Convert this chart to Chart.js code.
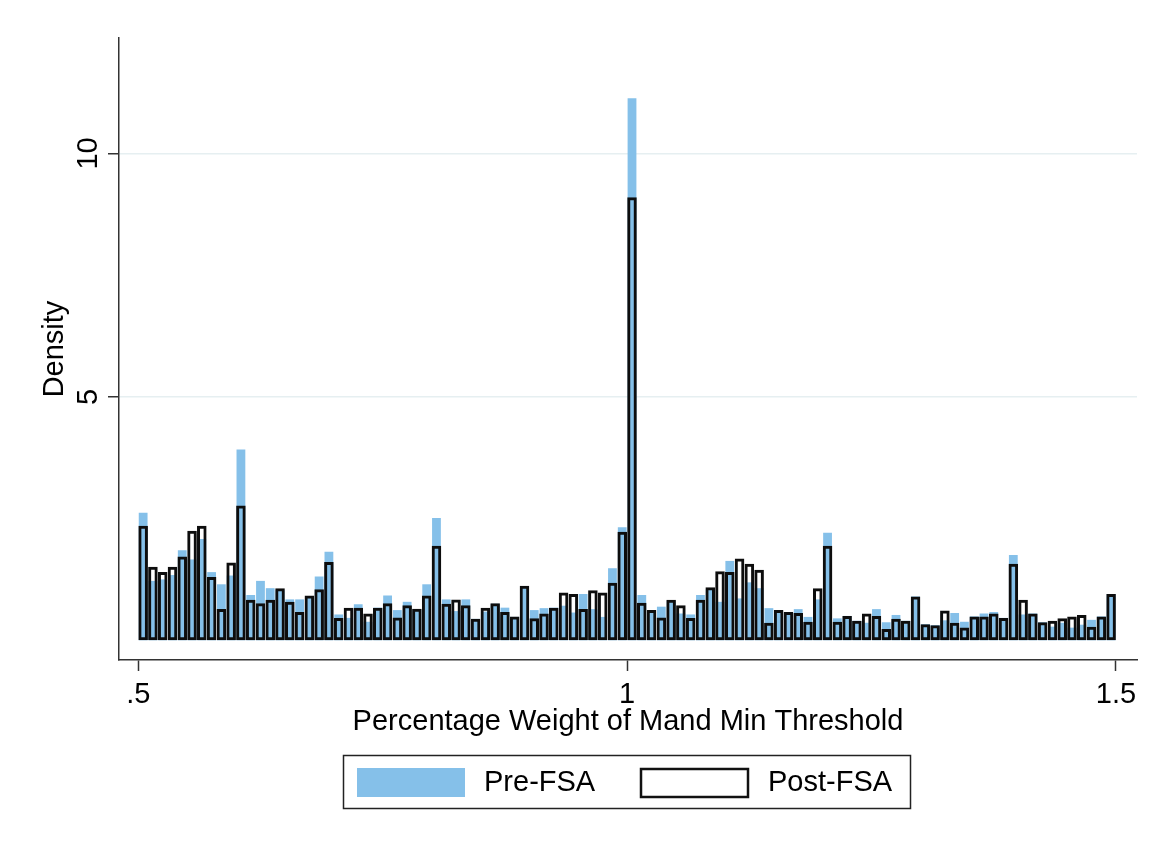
<!DOCTYPE html>
<html>
<head>
<meta charset="utf-8">
<script src="https://cdn.jsdelivr.net/npm/chart.js@4.4.1/dist/chart.umd.min.js"></script>
<style>
  html, body { margin: 0; padding: 0; background: #fff; }
  #wrap { width: 1159px; height: 844px; }
</style>
</head>
<body>
<div id="wrap"><canvas id="myChart" width="1159" height="844"></canvas></div>
<script>
// histogram bins: width 0.01 starting at .5
const binStart = 0.5;
const binWidth = 0.01;

const preFSA = [
    2.62, 1.22, 1.25, 1.34, 1.85, 1.66, 2.08, 1.40, 1.15, 1.33,
    3.92, 0.93, 1.22, 1.07, 1.03, 0.84, 0.84, 0.90, 1.31, 1.82,
    0.53, 0.46, 0.74, 0.38, 0.67, 0.92, 0.62, 0.79, 0.63, 1.15,
    2.51, 0.84, 0.60, 0.84, 0.44, 0.59, 0.75, 0.67, 0.48, 1.11,
    0.62, 0.66, 0.67, 0.71, 0.57, 0.95, 0.64, 0.48, 1.48, 2.32,
    11.13, 0.93, 0.60, 0.69, 0.81, 0.55, 0.53, 0.93, 1.05, 0.79,
    1.63, 0.86, 1.19, 1.07, 0.66, 0.57, 0.57, 0.64, 0.48, 0.84,
    2.21, 0.45, 0.50, 0.40, 0.36, 0.64, 0.37, 0.52, 0.40, 0.90,
    0.33, 0.31, 0.41, 0.56, 0.38, 0.49, 0.55, 0.58, 0.46, 1.75,
    0.53, 0.55, 0.37, 0.28, 0.36, 0.26, 0.32, 0.42, 0.49, 0.95
];

const postFSA = [
    2.35, 1.51, 1.40, 1.51, 1.72, 2.25, 2.35, 1.30, 0.64, 1.60,
    2.77, 0.83, 0.76, 0.83, 1.07, 0.79, 0.58, 0.92, 1.05, 1.61,
    0.46, 0.67, 0.67, 0.55, 0.67, 0.76, 0.47, 0.72, 0.65, 0.92,
    1.94, 0.75, 0.84, 0.72, 0.44, 0.67, 0.76, 0.58, 0.49, 1.12,
    0.45, 0.55, 0.67, 0.98, 0.95, 0.64, 1.03, 0.98, 1.18, 2.23,
    9.10, 0.77, 0.62, 0.47, 0.83, 0.72, 0.46, 0.83, 1.09, 1.42,
    1.40, 1.68, 1.57, 1.45, 0.36, 0.62, 0.58, 0.56, 0.38, 1.07,
    1.94, 0.38, 0.50, 0.40, 0.55, 0.50, 0.23, 0.44, 0.40, 0.90,
    0.33, 0.31, 0.61, 0.36, 0.26, 0.49, 0.49, 0.55, 0.46, 1.57,
    0.83, 0.55, 0.37, 0.40, 0.45, 0.49, 0.52, 0.28, 0.49, 0.95
];

const xTicks = [0.5, 1, 1.5];
const xTickLabels = ['.5', '1', '1.5'];
const yTicks = [5, 10];
const legendLabels = ['Pre-FSA', 'Post-FSA'];

const FONT = "'Liberation Sans', Arial, sans-serif";
const FSIZE = 29;
const BLUE = '#85c0e9';

function toPoints(vals) {
    return vals.map((v, i) => ({ x: binStart + binWidth * (i + 0.5), y: v }));
}

// y tick labels are vertical in the original, draw them rotated
const yLabelsPlugin = {
    id: 'yLabels',
    afterDraw(chart) {
        const c = chart.ctx;
        const y = chart.scales.y;
        c.save();
        c.font = FSIZE + 'px ' + FONT;
        c.fillStyle = '#000';
        c.textAlign = 'center';
        c.textBaseline = 'middle';
        yTicks.forEach(t => {
            c.save();
            c.translate(89, y.getPixelForValue(t));
            c.rotate(-Math.PI / 2);
            c.fillText(String(t), 0, 0);
            c.restore();
        });
        c.restore();
    }
};

const legendBoxPlugin = {
    id: 'legendBox',
    afterDraw(chart) {
        const c = chart.ctx;
        c.save();
        c.strokeStyle = '#222';
        c.lineWidth = 1.5;
        c.strokeRect(343.5, 755.5, 567, 53);
        c.fillStyle = BLUE;
        c.fillRect(357, 768, 108, 29);
        c.strokeStyle = '#111';
        c.lineWidth = 2.5;
        c.fillStyle = '#fff';
        c.fillRect(641, 769, 107, 28);
        c.strokeRect(641, 769, 107, 28);
        c.fillStyle = '#000';
        c.font = FSIZE + 'px ' + FONT;
        c.textAlign = 'left';
        c.textBaseline = 'middle';
        c.fillText(legendLabels[0], 484, 783);
        c.fillText(legendLabels[1], 768, 783);
        c.restore();
    }
};

const ctx = document.getElementById('myChart').getContext('2d');
const grafica = new Chart(ctx, {
    type: 'bar',
    data: {
        datasets: [
            {
                label: legendLabels[1],
                data: toPoints(postFSA),
                backgroundColor: 'rgba(0,0,0,0)',
                borderColor: '#0d0d0d',
                borderWidth: 3,
                borderSkipped: false,
                barPercentage: 0.98,
                order: 1
            },
            {
                label: legendLabels[0],
                data: toPoints(preFSA),
                backgroundColor: BLUE,
                borderWidth: 0,
                barPercentage: 0.9,
                order: 2
            }
        ]
    },
    options: {
        responsive: false,
        animation: false,
        devicePixelRatio: 1,
        grouped: false,
        categoryPercentage: 1,
        layout: { padding: { top: 38, right: 22, bottom: 90, left: 0 } },
        plugins: {
            legend: { display: false },
            tooltip: { enabled: false }
        },
        scales: {
            x: {
                type: 'linear',
                min: 0.4803,
                max: 1.5215,
                offset: false,
                afterBuildTicks: s => { s.ticks = xTicks.map(v => ({ value: v })); },
                afterFit: s => { s.height = 94; },
                ticks: {
                    font: { family: FONT, size: FSIZE },
                    color: '#000',
                    padding: 7,
                    maxRotation: 0,
                    callback: v => xTickLabels[xTicks.indexOf(v)]
                },
                grid: {
                    offset: false,
                    drawOnChartArea: false,
                    drawTicks: true,
                    tickLength: 11,
                    tickColor: '#333',
                    tickWidth: 1.5
                },
                border: { display: true, color: '#333', width: 1.5 },
                title: {
                    display: true,
                    text: 'Percentage Weight of Mand Min Threshold',
                    font: { family: FONT, size: FSIZE },
                    color: '#000',
                    padding: { top: 0, bottom: 15 }
                }
            },
            y: {
                min: -0.405,
                max: 12.37,
                afterBuildTicks: s => { s.ticks = yTicks.map(v => ({ value: v })); },
                afterFit: s => { s.width = 119; },
                ticks: { display: false },
                grid: {
                    color: '#e6eff1',
                    lineWidth: 1.5,
                    drawTicks: true,
                    tickLength: 11,
                    tickColor: '#333',
                    tickWidth: 1.5
                },
                border: { display: true, color: '#333', width: 1.5 },
                title: {
                    display: true,
                    text: 'Density',
                    font: { family: FONT, size: FSIZE },
                    color: '#000',
                    padding: { top: 38, bottom: 0 }
                }
            }
        }
    },
    plugins: [yLabelsPlugin, legendBoxPlugin]
});
</script>
</body>
</html>
